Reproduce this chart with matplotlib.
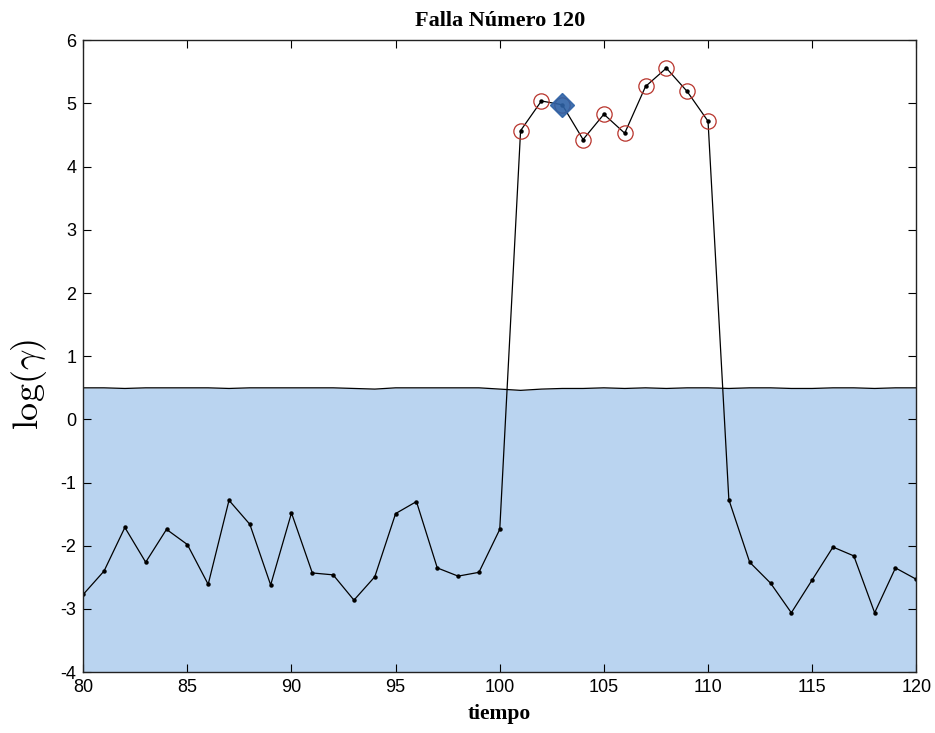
import numpy as np
import matplotlib.pyplot as plt

plt.rcParams['mathtext.fontset'] = 'cm'
plt.rcParams['axes.unicode_minus'] = False

tiempo = list(range(80, 121))
log_gamma = [-2.77, -2.40, -1.71, -2.26, -1.74, -1.98, -2.61, -1.28, -1.66, -2.62,
             -1.48, -2.43, -2.46, -2.86, -2.49, -1.49, -1.30, -2.35, -2.48, -2.42,
             -1.74, 4.57, 5.04, 4.98, 4.43, 4.83, 4.53, 5.27, 5.56, 5.19,
             4.72, -1.27, -2.26, -2.59, -3.06, -2.54, -2.02, -2.16, -3.06, -2.35,
             -2.53]
umbral = [0.50, 0.50, 0.49, 0.50, 0.50, 0.50, 0.50, 0.49, 0.50, 0.50,
          0.50, 0.50, 0.50, 0.49, 0.48, 0.50, 0.50, 0.50, 0.50, 0.50,
          0.48, 0.46, 0.48, 0.49, 0.49, 0.50, 0.49, 0.50, 0.49, 0.50,
          0.50, 0.49, 0.50, 0.50, 0.49, 0.49, 0.50, 0.50, 0.49, 0.50,
          0.50]
fallas_t = [101, 102, 103, 104, 105, 106, 107, 108, 109, 110]
fallas_y = [4.57, 5.04, 4.98, 4.43, 4.83, 4.53, 5.27, 5.56, 5.19, 4.72]
deteccion_t = [103]
deteccion_y = [4.98]

fig = plt.figure(figsize=(9.35, 7.33), dpi=100)
ax = fig.add_axes([0.089, 0.083, 0.891, 0.862])

ax.fill_between(tiempo, -4, umbral, color='#BAD4F0', lw=0)
ax.plot(tiempo, umbral, color='black', lw=0.9)
ax.plot(tiempo, log_gamma, color='black', lw=0.9, marker='o', markersize=2.2)
ax.plot(fallas_t, fallas_y, ls='none', marker='o', markersize=11,
        markerfacecolor='none', markeredgecolor='#B8332B', markeredgewidth=0.9)
ax.plot(deteccion_t, deteccion_y, ls='none', marker='D', markersize=12,
        color='#2E62A6', alpha=0.9)

ax.set_xlim(80, 120)
ax.set_ylim(-4, 6)
ax.set_xticks(range(80, 121, 5))
ax.set_yticks(range(-4, 7))
ax.tick_params(direction='in', top=True, right=True, length=6, labelsize=13, pad=5)
for lab in ax.get_xticklabels() + ax.get_yticklabels():
    lab.set_family('Liberation Sans')
for s in ax.spines.values():
    s.set_linewidth(1.0)
    s.set_color('#222222')

ax.set_title('Falla Número 120', family='Liberation Serif', weight='bold', fontsize=16, pad=10)
ax.set_xlabel('tiempo', family='Liberation Serif', weight='bold', fontsize=15.5, labelpad=6)
ax.set_ylabel(r'$\log(\gamma)$', fontsize=26)
ax.yaxis.set_label_coords(-0.041, 0.455)

fig.savefig('out.png', dpi=100)
